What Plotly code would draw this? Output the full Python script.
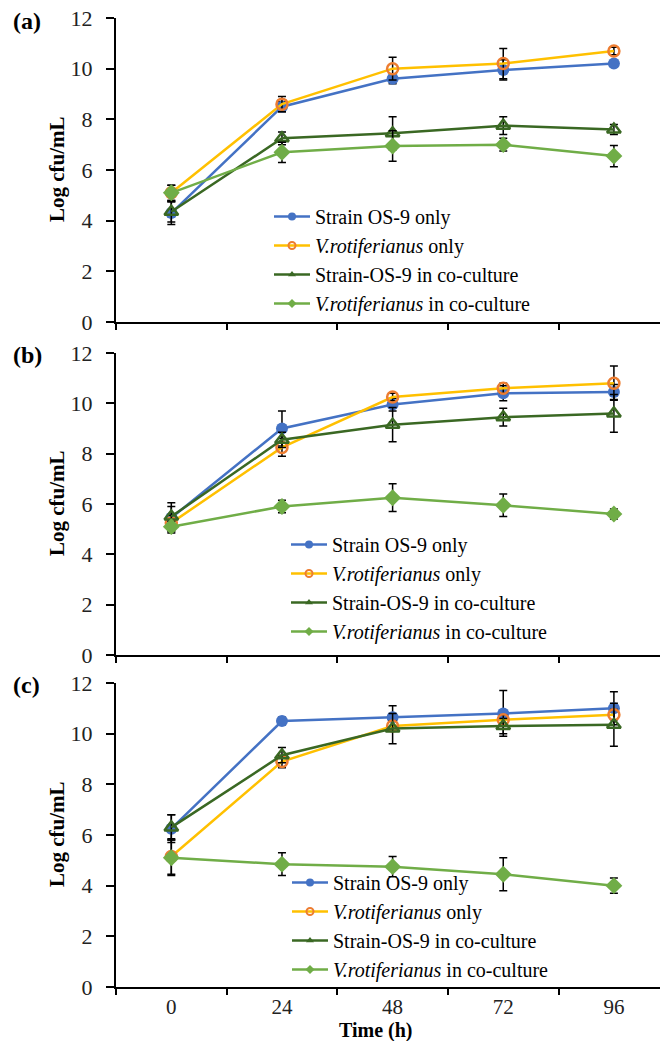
import plotly.graph_objects as go

# ---------------- data ----------------
hours = [0, 24, 48, 72, 96]
hour_labels = ["0", "24", "48", "72", "96"]
series_names = ["Strain OS-9 only", "<i>V.rotiferianus</i> only",
                "Strain-OS-9 in co-culture", "<i>V.rotiferianus</i> in co-culture"]
panel_labels = ["(a)", "(b)", "(c)"]

# Panel (a)
a_os9_only = [4.3, 8.5, 9.6, 9.95, 10.2]
a_os9_only_err = [0.45, 0.2, 0.2, 0.4, 0.1]
a_vr_only = [5.1, 8.6, 10.0, 10.2, 10.7]
a_vr_only_err = [0.3, 0.3, 0.45, 0.6, 0.15]
a_os9_co = [4.35, 7.25, 7.45, 7.75, 7.6]
a_os9_co_err = [0.4, 0.25, 0.65, 0.35, 0.2]
a_vr_co = [5.1, 6.7, 6.95, 7.0, 6.55]
a_vr_co_err = [0.3, 0.4, 0.6, 0.25, 0.42]

# Panel (b)
b_os9_only = [5.45, 9.0, 9.95, 10.4, 10.45]
b_os9_only_err = [0.6, 0.7, 0.25, 0.3, 0.3]
b_vr_only = [5.25, 8.25, 10.25, 10.6, 10.8]
b_vr_only_err = [0.3, 0.35, 0.15, 0.2, 0.68]
b_os9_co = [5.5, 8.55, 9.15, 9.45, 9.6]
b_os9_co_err = [0.4, 0.3, 0.68, 0.35, 0.75]
b_vr_co = [5.1, 5.9, 6.25, 5.95, 5.6]
b_vr_co_err = [0.2, 0.25, 0.55, 0.45, 0.2]

# Panel (c)
c_os9_only = [6.25, 10.5, 10.65, 10.8, 11.0]
c_os9_only_err = [0.55, 0.15, 0.45, 0.9, 0.65]
c_vr_only = [5.15, 8.9, 10.3, 10.55, 10.75]
c_vr_only_err = [0.7, 0.25, 0.2, 0.2, 0.2]
c_os9_co = [6.3, 9.15, 10.2, 10.3, 10.35]
c_os9_co_err = [0.5, 0.3, 0.6, 0.3, 0.85]
c_vr_co = [5.1, 4.85, 4.75, 4.45, 4.0]
c_vr_co_err = [0.7, 0.45, 0.4, 0.65, 0.3]

panels = [
    [(a_os9_only, a_os9_only_err), (a_vr_only, a_vr_only_err),
     (a_os9_co, a_os9_co_err), (a_vr_co, a_vr_co_err)],
    [(b_os9_only, b_os9_only_err), (b_vr_only, b_vr_only_err),
     (b_os9_co, b_os9_co_err), (b_vr_co, b_vr_co_err)],
    [(c_os9_only, c_os9_only_err), (c_vr_only, c_vr_only_err),
     (c_os9_co, c_os9_co_err), (c_vr_co, c_vr_co_err)],
]

# ---------------- styles ----------------
FONT = "Liberation Serif"
line_colors = ["#4472C4", "#FFC000", "#3A6823", "#70AD47"]
marker_styles = [
    dict(symbol="circle", size=12, color="#4472C4", line=dict(width=0)),
    dict(symbol="circle-open", size=11, color="#ED7D31", line=dict(width=2.5)),
    dict(symbol="triangle-up-open", size=12, color="#3A6823", line=dict(width=2.5)),
    dict(symbol="diamond", size=13, color="#70AD47", line=dict(width=0)),
]
legend_markers = [
    dict(symbol="circle", size=8, color="#4472C4", line=dict(width=0)),
    dict(symbol="circle-open", size=7, color="#ED7D31", line=dict(width=2)),
    dict(symbol="triangle-up", size=7, color="#3A6823", line=dict(width=0)),
    dict(symbol="diamond", size=7, color="#70AD47", line=dict(width=0)),
]

# pixel geometry helpers (plot area: x 116..660, y 18..987)
H, W = 1041, 660
T, B = 18, 987
L = 116


def py(p):
    return (B - p) / (B - T)


def px(p):
    return (p - L) / (W - L)


domains = [[py(322), 1.0], [py(655), py(353)], [0.0, py(683)]]
legend_pos = [(px(269), py(197)), (px(286), py(525)), (px(287), py(863))]

fig = go.Figure()
legend_ids = ["legend", "legend2", "legend3"]
for pi, panel in enumerate(panels):
    xa = "x" if pi == 0 else f"x{pi+1}"
    ya = "y" if pi == 0 else f"y{pi+1}"
    for si, (vals, errs) in enumerate(panel):
        fig.add_trace(go.Scatter(
            x=hours, y=vals, xaxis=xa, yaxis=ya, mode="lines+markers",
            line=dict(color=line_colors[si], width=2.5),
            marker=marker_styles[si],
            error_y=dict(type="data", array=errs, color="black", thickness=1.5, width=4),
            showlegend=False, cliponaxis=False,
        ))
    for si in range(4):
        fig.add_trace(go.Scatter(
            x=[None], y=[None], xaxis=xa, yaxis=ya, mode="lines+markers",
            name=series_names[si], legend=legend_ids[pi],
            line=dict(color=line_colors[si], width=2.5),
            marker=legend_markers[si], showlegend=True,
        ))

layout = dict(
    width=W, height=H,
    margin=dict(l=L, r=0, t=T, b=H - B, autoexpand=False),
    plot_bgcolor="white", paper_bgcolor="white",
    font=dict(family=FONT, size=20, color="#222"),
)

for pi in range(3):
    k = "" if pi == 0 else str(pi + 1)
    layout[f"xaxis{k}"] = dict(
        domain=[0, 1], anchor=f"y{k}", range=[-12, 106], automargin=False,
        tickmode="array", tickvals=hours, ticktext=hour_labels,
        ticks="", showticklabels=(pi == 2), ticklabelstandoff=0,
        showline=True, linecolor="black", linewidth=2, showgrid=False, zeroline=False,
        minor=dict(tickmode="array", tickvals=[-12, 12, 36, 60, 84], ticks="outside",
                   ticklen=6, tickwidth=2, tickcolor="black", showgrid=False),
        tickfont=dict(family=FONT, size=21, color="#222"),
    )
    layout[f"yaxis{k}"] = dict(
        domain=domains[pi], anchor=f"x{k}", range=[0, 12], dtick=2, tick0=0,
        automargin=False,
        ticks="outside", ticklen=8, tickwidth=2, tickcolor="black",
        showline=True, linecolor="black", linewidth=2, showgrid=False, zeroline=False,
        ticklabelstandoff=9,
        tickfont=dict(family=FONT, size=22, color="#222"),
    )
    lx, ly = legend_pos[pi]
    layout[legend_ids[pi]] = dict(
        x=lx, y=ly, xref="paper", yref="paper", xanchor="left", yanchor="top",
        bgcolor="rgba(0,0,0,0)", borderwidth=0, itemwidth=36,
        font=dict(family=FONT, size=20, color="black"),
    )

fig.update_layout(**layout)

# y-axis titles and panel labels
title_centers = [(18 + 322) / 2, (353 + 655) / 2, (683 + 987) / 2]
label_y = [21, 355, 685]
for pi in range(3):
    fig.add_annotation(
        text="<b>Log cfu/mL</b>", xref="paper", yref="paper",
        x=px(57), y=py(title_centers[pi] - 1), textangle=-90,
        showarrow=False, xanchor="center", yanchor="middle",
        font=dict(family=FONT, size=21, color="black"),
    )
    fig.add_annotation(
        text=f"<b>{panel_labels[pi]}</b>", xref="paper", yref="paper",
        x=px(11), y=py(label_y[pi]), showarrow=False,
        xanchor="left", yanchor="middle",
        font=dict(family=FONT, size=24, color="black"),
    )

fig.add_annotation(
    text="<b>Time (h)</b>", xref="paper", yref="paper",
    x=px(376), y=py(1030), showarrow=False, xanchor="center", yanchor="middle",
    font=dict(family=FONT, size=20, color="black"),
)

fig.write_html("out.html",
               config={"displayModeBar": False},
               post_script="document.body.style.margin='0px';"
                           "document.body.style.overflow='hidden';")
